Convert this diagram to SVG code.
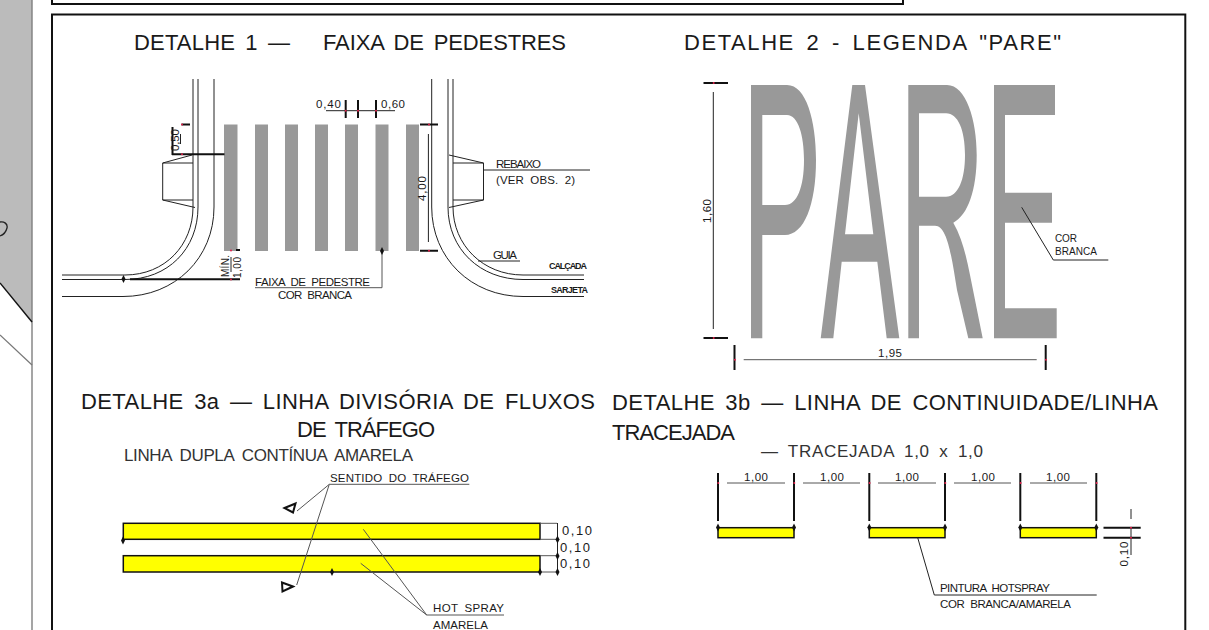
<svg xmlns="http://www.w3.org/2000/svg" width="1209" height="630" viewBox="0 0 1209 630">
<style>
text{font-family:"Liberation Sans",Arial,sans-serif;fill:#1a1a1a}
.t{font-size:22px;word-spacing:4px}
.s{font-size:17px;word-spacing:4px;fill:#333}
.n{font-size:11.5px;word-spacing:3px}
.m{font-size:10px;word-spacing:3px}
.b{font-size:9px;font-weight:bold}
.l{fill:none;stroke:#222;stroke-width:1}
.h{fill:none;stroke:#111;stroke-width:2}
.g{fill:none;stroke:#555;stroke-width:1}
.k{fill:#999}
.y{fill:#ff0;stroke:#111;stroke-width:1.5}
.a{fill:#fff;stroke:#111;stroke-width:2}
</style>
<defs>
<path id="d" d="M0-4L2 0L0 4L-2 0Z" fill="#111"/>
<circle id="r" r="1" fill="#e0204a"/>
</defs>
<rect width="1209" height="630" fill="#fff"/>
<g id="side-panel">
<path d="M0 0H32V322L0 283Z" fill="#bbb"/>
<path d="M32 0V630" stroke="#7f7f7f" stroke-width="1.4" fill="none"/>
<path d="M0 283L32 322" class="h" style="stroke-width:1.4"/>
<path d="M0 335L32 365" fill="none" stroke="#777" stroke-width="1.2"/>
<path d="M0 222C4 221 8 224 7 228C6 232 3 235 0 236" class="l" style="stroke-width:1.3"/>
</g>
<g id="frames">
<path d="M52 0V4H903V0" class="h"/>
<path d="M52 630V14.5H1185.3V630" class="h"/>
</g>
<g id="detalhe-1">
<text class="t" x="134" y="50" textLength="156">DETALHE 1 —</text>
<text class="t" x="323" y="50" textLength="243">FAIXA DE PEDESTRES</text>
<g id="faixa">
<rect class="k" x="224" y="124.5" width="13.5" height="126.5"/>
<rect class="k" x="255" y="124.5" width="13" height="126.5"/>
<rect class="k" x="285" y="124.5" width="13" height="126.5"/>
<rect class="k" x="315" y="124.5" width="13" height="126.5"/>
<rect class="k" x="345" y="124.5" width="13" height="126.5"/>
<rect class="k" x="375.5" y="124.5" width="13" height="126.5"/>
<rect class="k" x="406" y="124.5" width="13" height="126.5"/>
</g>
<g id="meio-fio">
<path class="l" d="M193 79V207C193 245 165 275 125 275H62"/>
<path class="l" d="M198 79V207C198 249 168 279.5 125 279.5H62"/>
<path class="l" d="M214 79V207C214 258 175 296.5 123 296.5H62"/>
<path class="l" d="M431.7 79V207C431.7 258 471 296.5 523 296.5H584"/>
<path class="l" d="M448 79V207C448 249 480 279.5 523 279.5H584"/>
<path class="l" d="M453 79V207C453 245 483 275 523 275H584"/>
<path class="l" d="M193 163H162.7V200H193M162.7 163L192 155M162.7 200L195 207.5"/>
<path class="l" d="M453 163H483.5V200H453M483.5 163L449 155M483.5 200L449 207.5"/>
</g>
<g id="cotas-1">
<path class="h" d="M181.5 124.5H190M172 154.3H224.5M172.5 127V155"/>
<path class="l" d="M180.5 134V144"/>
<text class="n" transform="translate(179 151) rotate(-90)" textLength="22">0,50</text>
<use href="#r" x="182" y="124.5"/><use href="#r" x="182" y="154.3"/>
<path class="l" d="M326 110.7H395"/>
<path class="h" d="M345.7 100V118M358 100V118M376 100V118"/>
<use href="#r" x="345.7" y="110.7"/><use href="#r" x="358" y="110.7"/><use href="#r" x="376" y="110.7"/>
<text class="n" x="316" y="107.5" textLength="25">0,40</text>
<text class="n" x="381" y="107.5" textLength="24">0,60</text>
<path class="h" d="M420 124.5H438M420 250.7H438"/>
<path class="l" d="M428.4 134V242"/>
<use href="#r" x="429" y="124.5"/><use href="#r" x="429" y="250.7"/>
<text class="n" transform="translate(426 201) rotate(-90)" textLength="25">4,00</text>
<path class="h" d="M130 279.3H240M236 250H240"/>
<path class="l" d="M231 257V272"/>
<use href="#d" x="123.5" y="279"/>
<use href="#r" x="231" y="250.5"/><use href="#r" x="231" y="279.5"/>
<text class="m" transform="translate(229 277) rotate(-90)" textLength="22">MÍN.</text>
<text class="m" transform="translate(240.5 278) rotate(-90)" textLength="21">1,00</text>
</g>
<g id="rotulos-1">
<path class="l" d="M483.5 170H590M478 261H520"/>
<path class="g" d="M382 251V287.7H255"/>
<use href="#d" x="382" y="251"/>
<text class="n" x="496" y="168" textLength="45">REBAIXO</text>
<text class="n" x="496" y="184" textLength="79">(VER OBS. 2)</text>
<text class="n" x="493" y="259" textLength="24">GUIA</text>
<text class="b" x="549" y="269" textLength="38">CALÇADA</text>
<text class="b" x="551" y="293" textLength="37">SARJETA</text>
<text class="n" x="255" y="286" textLength="115">FAIXA DE PEDESTRE</text>
<text class="n" x="278" y="299" textLength="74">COR BRANCA</text>
</g>
</g>
<g id="detalhe-2">
<text class="t" x="684" y="50" textLength="377">DETALHE 2 - LEGENDA "PARE"</text>
<g id="legenda-pare" fill="#999" fill-rule="evenodd">
<path d="M751 85H787C806 85 816 120 816 160C816 205 804 235 785 235H762.3V338.3H751ZM762.3 115V205H785C797 205 804 187 804 160C804 135 798 115 787 115Z"/>
<path d="M852.3 85H865L899.3 338.3H886.7L877.3 261.7H841.7L833.3 338.3H820.7ZM858.7 113.3L845 234.3H873.3Z"/>
<path d="M908.3 85H947C966 85 976.7 120 976.7 155C976.7 190 968 215 953.3 222.7C962 238 966 255 970 275L982.7 338.3H968.3L957 290C952 260 948 225.7 935 225.7H919V338.3H908.3ZM919 113.3V196.7H946C958 196.7 965 180 965 155C965 130 958 113.3 946 113.3Z"/>
<path d="M994 85H1055V115H1005V192.7H1052V222.7H1005V308.3H1056.7V338.3H994Z"/>
</g>
<g id="cotas-2">
<path class="h" d="M703.5 83H728M703.5 338H728M734.5 345V370M1045.7 345V370"/>
<path class="l" d="M713.3 92V329"/>
<path class="g" d="M743.7 359.7H1036.7"/>
<use href="#r" x="713.7" y="83"/><use href="#r" x="713.7" y="338"/><use href="#r" x="735" y="359.7"/><use href="#r" x="1046" y="359.7"/>
<text class="n" transform="translate(711 223) rotate(-90)" textLength="24">1,60</text>
<text class="n" x="878" y="356.5" textLength="24">1,95</text>
<path class="l" d="M1021.7 207.3L1053.3 260H1108.3"/>
<text class="m" x="1055" y="241.5" textLength="22">COR</text>
<text class="m" x="1055" y="254.5" textLength="42">BRANCA</text>
</g>
</g>
<g id="detalhe-3a">
<text class="t" x="81" y="409" textLength="514">DETALHE 3a — LINHA DIVISÓRIA DE FLUXOS</text>
<text class="t" x="297" y="437" textLength="138">DE TRÁFEGO</text>
<text class="s" x="124" y="461" textLength="289">LINHA DUPLA CONTÍNUA AMARELA</text>
<rect class="y" x="123.3" y="523.3" width="416.7" height="16"/>
<rect class="y" x="123.3" y="555.7" width="416.7" height="16.3"/>
<path class="g" d="M540 523.3H557M540 539.3H557M540 555.7H557M540 572H557"/>
<path class="l" d="M557.5 523V572"/>
<use href="#d" x="557.5" y="539.5"/><use href="#d" x="557.5" y="556"/><use href="#d" x="557.5" y="572"/>
<use href="#d" x="123" y="540.5"/><use href="#d" x="332" y="572"/><use href="#d" x="540" y="572"/>
<text class="n" style="font-size:13px" x="562" y="535" textLength="30">0,10</text>
<text class="n" style="font-size:13px" x="560" y="551.5" textLength="30">0,10</text>
<text class="n" style="font-size:13px" x="560" y="568" textLength="30">0,10</text>
<path class="a" d="M284.5 508L295.5 503.5L293 512.5Z"/>
<path class="a" d="M293 586.5L282 582.5L282.5 591.5Z"/>
<path class="g" d="M469.3 484.3H329.3L297 511M329.3 484.3L296.7 585"/>
<path class="g" d="M363.3 529.3L426.7 615M360.7 563.3L426.7 615H504"/>
<text class="n" x="330" y="482" textLength="139">SENTIDO DO TRÁFEGO</text>
<text class="n" x="433" y="612" textLength="71">HOT SPRAY</text>
<text class="n" x="433" y="628.5" textLength="55">AMARELA</text>
</g>
<g id="detalhe-3b">
<text class="t" x="612" y="410" textLength="546">DETALHE 3b — LINHA DE CONTINUIDADE/LINHA</text>
<text class="t" x="612" y="440" textLength="123">TRACEJADA</text>
<text class="s" x="761" y="457" textLength="222">— TRACEJADA  1,0  x  1,0</text>
<path class="h" d="M718 473V521M794 473V521M869.3 473V521M945 473V521M1020.3 473V521M1096.3 473V521"/>
<path class="g" d="M727 483H785M803 483H860M878 483H936M954 483H1011M1030 483H1087"/>
<use href="#r" x="718.3" y="483"/><use href="#r" x="794.3" y="483"/><use href="#r" x="869.6" y="483"/><use href="#r" x="945.3" y="483"/><use href="#r" x="1020.6" y="483"/><use href="#r" x="1096.6" y="483"/>
<text class="n" x="744" y="481" textLength="24">1,00</text>
<text class="n" x="820" y="481" textLength="24">1,00</text>
<text class="n" x="895" y="481" textLength="24">1,00</text>
<text class="n" x="971" y="481" textLength="24">1,00</text>
<text class="n" x="1046" y="481" textLength="24">1,00</text>
<rect class="y" x="718" y="527.7" width="76" height="10"/>
<rect class="y" x="869.3" y="527.7" width="75.7" height="10"/>
<rect class="y" x="1020.3" y="527.7" width="76" height="10"/>
<use href="#d" x="718" y="527.5"/><use href="#d" x="794" y="527.5"/><use href="#d" x="869.3" y="527.5"/><use href="#d" x="945" y="527.5"/><use href="#d" x="1020.3" y="527.5"/><use href="#d" x="1096.3" y="527.5"/>
<path class="h" d="M1103.5 527.7H1140.7M1103.5 537.7H1140.7"/>
<path class="l" d="M1131 509V519M1131 528V555"/>
<use href="#r" x="1131" y="527.7"/><use href="#r" x="1131" y="537.7"/>
<text class="n" transform="translate(1128 566.5) rotate(-90)" textLength="25">0,10</text>
<path class="l" d="M917.7 537.7L934.3 595H1096.7"/>
<text class="n" x="940" y="592" textLength="110">PINTURA HOTSPRAY</text>
<text class="n" x="940" y="608" textLength="131">COR BRANCA/AMARELA</text>
</g>
</svg>
